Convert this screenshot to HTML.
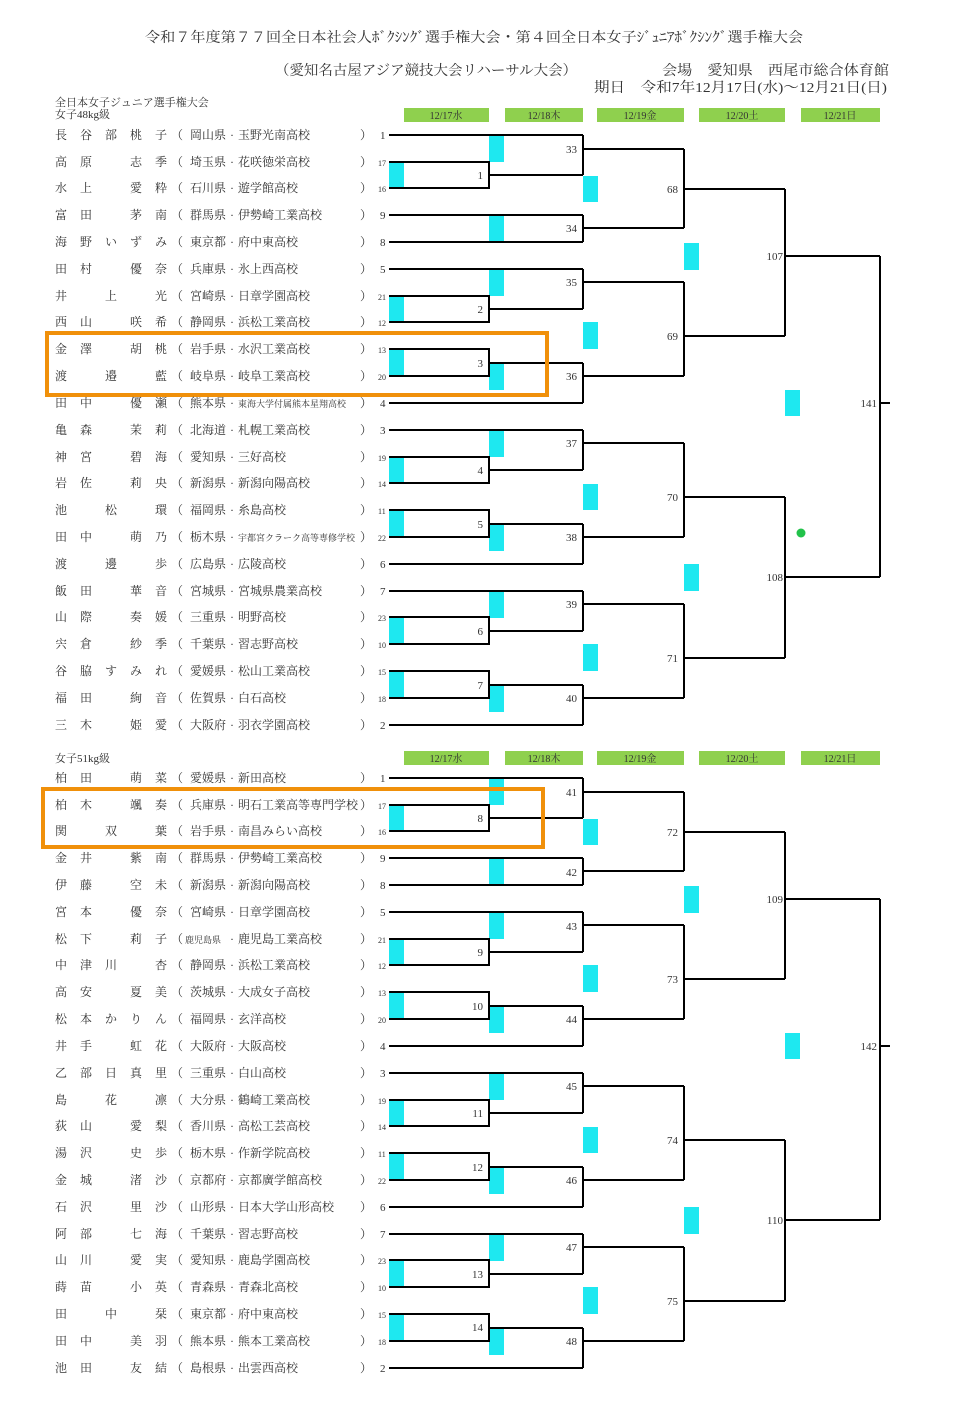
<!DOCTYPE html>
<html><head><meta charset="utf-8">
<style>
html,body{margin:0;padding:0;background:#fff;}
svg{display:block;}
text{font-family:"Liberation Serif","Noto Serif CJK SC","Noto Sans CJK JP",serif;fill:#333;font-size:12px;}
.n{letter-spacing:13px;}
.s{font-size:11px;}
.ss{font-size:8px;}
.sm{font-size:9px;}
.lb{font-size:11px;text-anchor:end;}
.dt{font-size:10px;text-anchor:middle;}
</style></head><body>
<svg width="953" height="1406" viewBox="0 0 953 1406" xmlns="http://www.w3.org/2000/svg">
<rect width="953" height="1406" fill="#fff"/>
<text x="145" y="42" style="font-size:14px" textLength="658" lengthAdjust="spacingAndGlyphs">令和７年度第７７回全日本社会人ﾎﾞｸｼﾝｸﾞ選手権大会・第４回全日本女子ｼﾞｭﾆｱﾎﾞｸｼﾝｸﾞ選手権大会</text>
<text x="275" y="75" style="font-size:14px" textLength="302" lengthAdjust="spacingAndGlyphs">（愛知名古屋アジア競技大会リハーサル大会）</text>
<text x="662" y="75" style="font-size:14px" textLength="227" lengthAdjust="spacingAndGlyphs">会場　愛知県　西尾市総合体育館</text>
<text x="594" y="92" style="font-size:14px" textLength="293" lengthAdjust="spacingAndGlyphs">期日　令和7年12月17日(水)～12月21日(日)</text>
<text x="55" y="106" style="font-size:11px">全日本女子ジュニア選手権大会</text>
<text x="55" y="118" style="font-size:11px">女子48kg級</text>
<text x="55" y="762" style="font-size:11px">女子51kg級</text>

<g id="dates">
<rect x="404" y="108" width="85" height="14" fill="#8fd04e"/>
<rect x="505" y="108" width="78" height="14" fill="#8fd04e"/>
<rect x="597" y="108" width="87" height="14" fill="#8fd04e"/>
<rect x="699" y="108" width="86" height="14" fill="#8fd04e"/>
<rect x="801" y="108" width="79" height="14" fill="#8fd04e"/>
</g>
<use href="#dates" y="643"/>
<text class="dt" x="446" y="119">12/17水</text><text class="dt" x="544" y="119">12/18木</text><text class="dt" x="640" y="119">12/19金</text><text class="dt" x="742" y="119">12/20土</text><text class="dt" x="840" y="119">12/21日</text>
<text class="dt" x="446" y="762">12/17水</text><text class="dt" x="544" y="762">12/18木</text><text class="dt" x="640" y="762">12/19金</text><text class="dt" x="742" y="762">12/20土</text><text class="dt" x="840" y="762">12/21日</text>

<g id="br">
<g fill="#1ee8f0">
<rect x="389" y="162" width="15" height="26"/><rect x="389" y="296" width="15" height="26"/><rect x="389" y="349" width="15" height="27"/><rect x="389" y="457" width="15" height="26"/><rect x="389" y="510" width="15" height="27"/><rect x="389" y="617" width="15" height="27"/><rect x="389" y="671" width="15" height="27"/>
<rect x="489" y="136" width="15" height="26"/><rect x="489" y="215" width="15" height="27"/><rect x="489" y="269" width="15" height="27"/><rect x="489" y="363" width="15" height="27"/><rect x="489" y="430" width="15" height="27"/><rect x="489" y="524" width="15" height="27"/><rect x="489" y="591" width="15" height="27"/><rect x="489" y="685" width="15" height="27"/>
<rect x="583" y="176" width="15" height="26"/><rect x="583" y="322" width="15" height="27"/><rect x="583" y="484" width="15" height="26"/><rect x="583" y="644" width="15" height="27"/>
<rect x="684" y="243" width="15" height="27"/><rect x="684" y="564" width="15" height="27"/>
<rect x="785" y="390" width="15" height="26"/>
</g>
<g stroke="#000" stroke-width="2" fill="none">
<path d="M389 135H583M389 215H583M389 242H583M389 269H583M389 403H583M389 430H583M389 564H583M389 591H583M389 725H583"/>
<path d="M389 162H489V188H389M489 175H583"/>
<path d="M389 296H489V322H389M489 309H583"/>
<path d="M389 349H489V376H389M489 363H583"/>
<path d="M389 457H489V483H389M489 470H583"/>
<path d="M389 510H489V537H389M489 524H583"/>
<path d="M389 617H489V644H389M489 631H583"/>
<path d="M389 671H489V698H389M489 685H583"/>
<path d="M583 135V175M583 149H684M583 215V242M583 228H684M583 269V309M583 282H684M583 363V403M583 376H684M583 430V470M583 443H684M583 524V564M583 537H684M583 591V631M583 604H684M583 685V725M583 698H684"/>
<path d="M684 149V228M684 189H785M684 282V376M684 336H785M684 443V537M684 497H785M684 604V698M684 658H785"/>
<path d="M785 189V336M785 256H880M785 497V658M785 577H880"/>
<path d="M880 256V577M880 403H890"/>
</g>
</g>
<use href="#br" y="643"/>
<circle cx="801" cy="533" r="4.5" fill="#22c24a"/>

<text class="lb" x="483" y="179">1</text><text class="lb" x="483" y="313">2</text><text class="lb" x="483" y="367">3</text><text class="lb" x="483" y="474">4</text><text class="lb" x="483" y="528">5</text><text class="lb" x="483" y="635">6</text><text class="lb" x="483" y="689">7</text>
<text class="lb" x="577" y="153">33</text><text class="lb" x="577" y="232">34</text><text class="lb" x="577" y="286">35</text><text class="lb" x="577" y="380">36</text><text class="lb" x="577" y="447">37</text><text class="lb" x="577" y="541">38</text><text class="lb" x="577" y="608">39</text><text class="lb" x="577" y="702">40</text>
<text class="lb" x="678" y="193">68</text><text class="lb" x="678" y="340">69</text><text class="lb" x="678" y="501">70</text><text class="lb" x="678" y="662">71</text>
<text class="lb" x="783" y="260">107</text><text class="lb" x="783" y="581">108</text><text class="lb" x="877" y="407">141</text>
<text class="lb" x="483" y="822">8</text><text class="lb" x="483" y="956">9</text><text class="lb" x="483" y="1010">10</text><text class="lb" x="483" y="1117">11</text><text class="lb" x="483" y="1171">12</text><text class="lb" x="483" y="1278">13</text><text class="lb" x="483" y="1331">14</text>
<text class="lb" x="577" y="796">41</text><text class="lb" x="577" y="876">42</text><text class="lb" x="577" y="930">43</text><text class="lb" x="577" y="1023">44</text><text class="lb" x="577" y="1090">45</text><text class="lb" x="577" y="1184">46</text><text class="lb" x="577" y="1251">47</text><text class="lb" x="577" y="1345">48</text>
<text class="lb" x="678" y="836">72</text><text class="lb" x="678" y="983">73</text><text class="lb" x="678" y="1144">74</text><text class="lb" x="678" y="1305">75</text>
<text class="lb" x="783" y="903">109</text><text class="lb" x="783" y="1224">110</text><text class="lb" x="877" y="1050">142</text>

<rect x="47" y="333" width="500" height="62" fill="none" stroke="#f0900a" stroke-width="4"/>
<rect x="43" y="789" width="500" height="58" fill="none" stroke="#f0900a" stroke-width="4"/>

<text y="139"><tspan class="n" x="55">長谷部桃子</tspan><tspan x="171">（</tspan><tspan x="190">岡山県</tspan><tspan x="230">·</tspan><tspan x="238">玉野光南高校</tspan><tspan x="360">）</tspan><tspan class="s" x="380">1</tspan></text>
<text y="166"><tspan class="n" x="55">高原　志季</tspan><tspan x="171">（</tspan><tspan x="190">埼玉県</tspan><tspan x="230">·</tspan><tspan x="238">花咲徳栄高校</tspan><tspan x="360">）</tspan><tspan class="ss" x="378">17</tspan></text>
<text y="192"><tspan class="n" x="55">水上　愛粋</tspan><tspan x="171">（</tspan><tspan x="190">石川県</tspan><tspan x="230">·</tspan><tspan x="238">遊学館高校</tspan><tspan x="360">）</tspan><tspan class="ss" x="378">16</tspan></text>
<text y="219"><tspan class="n" x="55">富田　茅南</tspan><tspan x="171">（</tspan><tspan x="190">群馬県</tspan><tspan x="230">·</tspan><tspan x="238">伊勢崎工業高校</tspan><tspan x="360">）</tspan><tspan class="s" x="380">9</tspan></text>
<text y="246"><tspan class="n" x="55">海野いずみ</tspan><tspan x="171">（</tspan><tspan x="190">東京都</tspan><tspan x="230">·</tspan><tspan x="238">府中東高校</tspan><tspan x="360">）</tspan><tspan class="s" x="380">8</tspan></text>
<text y="273"><tspan class="n" x="55">田村　優奈</tspan><tspan x="171">（</tspan><tspan x="190">兵庫県</tspan><tspan x="230">·</tspan><tspan x="238">氷上西高校</tspan><tspan x="360">）</tspan><tspan class="s" x="380">5</tspan></text>
<text y="300"><tspan class="n" x="55">井　上　光</tspan><tspan x="171">（</tspan><tspan x="190">宮崎県</tspan><tspan x="230">·</tspan><tspan x="238">日章学園高校</tspan><tspan x="360">）</tspan><tspan class="ss" x="378">21</tspan></text>
<text y="326"><tspan class="n" x="55">西山　咲希</tspan><tspan x="171">（</tspan><tspan x="190">静岡県</tspan><tspan x="230">·</tspan><tspan x="238">浜松工業高校</tspan><tspan x="360">）</tspan><tspan class="ss" x="378">12</tspan></text>
<text y="353"><tspan class="n" x="55">金澤　胡桃</tspan><tspan x="171">（</tspan><tspan x="190">岩手県</tspan><tspan x="230">·</tspan><tspan x="238">水沢工業高校</tspan><tspan x="360">）</tspan><tspan class="ss" x="378">13</tspan></text>
<text y="380"><tspan class="n" x="55">渡　邉　藍</tspan><tspan x="171">（</tspan><tspan x="190">岐阜県</tspan><tspan x="230">·</tspan><tspan x="238">岐阜工業高校</tspan><tspan x="360">）</tspan><tspan class="ss" x="378">20</tspan></text>
<text y="407"><tspan class="n" x="55">田中　優瀬</tspan><tspan x="171">（</tspan><tspan x="190">熊本県</tspan><tspan x="230">·</tspan><tspan class="sm" x="238">東海大学付属熊本星翔高校</tspan><tspan x="360">）</tspan><tspan class="s" x="380">4</tspan></text>
<text y="434"><tspan class="n" x="55">亀森　茉莉</tspan><tspan x="171">（</tspan><tspan x="190">北海道</tspan><tspan x="230">·</tspan><tspan x="238">札幌工業高校</tspan><tspan x="360">）</tspan><tspan class="s" x="380">3</tspan></text>
<text y="461"><tspan class="n" x="55">神宮　碧海</tspan><tspan x="171">（</tspan><tspan x="190">愛知県</tspan><tspan x="230">·</tspan><tspan x="238">三好高校</tspan><tspan x="360">）</tspan><tspan class="ss" x="378">19</tspan></text>
<text y="487"><tspan class="n" x="55">岩佐　莉央</tspan><tspan x="171">（</tspan><tspan x="190">新潟県</tspan><tspan x="230">·</tspan><tspan x="238">新潟向陽高校</tspan><tspan x="360">）</tspan><tspan class="ss" x="378">14</tspan></text>
<text y="514"><tspan class="n" x="55">池　松　環</tspan><tspan x="171">（</tspan><tspan x="190">福岡県</tspan><tspan x="230">·</tspan><tspan x="238">糸島高校</tspan><tspan x="360">）</tspan><tspan class="ss" x="378">11</tspan></text>
<text y="541"><tspan class="n" x="55">田中　萌乃</tspan><tspan x="171">（</tspan><tspan x="190">栃木県</tspan><tspan x="230">·</tspan><tspan class="sm" x="238">宇都宮クラーク高等専修学校</tspan><tspan x="360">）</tspan><tspan class="ss" x="378">22</tspan></text>
<text y="568"><tspan class="n" x="55">渡　邊　歩</tspan><tspan x="171">（</tspan><tspan x="190">広島県</tspan><tspan x="230">·</tspan><tspan x="238">広陵高校</tspan><tspan x="360">）</tspan><tspan class="s" x="380">6</tspan></text>
<text y="595"><tspan class="n" x="55">飯田　華音</tspan><tspan x="171">（</tspan><tspan x="190">宮城県</tspan><tspan x="230">·</tspan><tspan x="238">宮城県農業高校</tspan><tspan x="360">）</tspan><tspan class="s" x="380">7</tspan></text>
<text y="621"><tspan class="n" x="55">山際　奏媛</tspan><tspan x="171">（</tspan><tspan x="190">三重県</tspan><tspan x="230">·</tspan><tspan x="238">明野高校</tspan><tspan x="360">）</tspan><tspan class="ss" x="378">23</tspan></text>
<text y="648"><tspan class="n" x="55">宍倉　紗季</tspan><tspan x="171">（</tspan><tspan x="190">千葉県</tspan><tspan x="230">·</tspan><tspan x="238">習志野高校</tspan><tspan x="360">）</tspan><tspan class="ss" x="378">10</tspan></text>
<text y="675"><tspan class="n" x="55">谷脇すみれ</tspan><tspan x="171">（</tspan><tspan x="190">愛媛県</tspan><tspan x="230">·</tspan><tspan x="238">松山工業高校</tspan><tspan x="360">）</tspan><tspan class="ss" x="378">15</tspan></text>
<text y="702"><tspan class="n" x="55">福田　絢音</tspan><tspan x="171">（</tspan><tspan x="190">佐賀県</tspan><tspan x="230">·</tspan><tspan x="238">白石高校</tspan><tspan x="360">）</tspan><tspan class="ss" x="378">18</tspan></text>
<text y="729"><tspan class="n" x="55">三木　姫愛</tspan><tspan x="171">（</tspan><tspan x="190">大阪府</tspan><tspan x="230">·</tspan><tspan x="238">羽衣学園高校</tspan><tspan x="360">）</tspan><tspan class="s" x="380">2</tspan></text>

<text y="782"><tspan class="n" x="55">柏田　萌菜</tspan><tspan x="171">（</tspan><tspan x="190">愛媛県</tspan><tspan x="230">·</tspan><tspan x="238">新田高校</tspan><tspan x="360">）</tspan><tspan class="s" x="380">1</tspan></text>
<text y="809"><tspan class="n" x="55">柏木　颯奏</tspan><tspan x="171">（</tspan><tspan x="190">兵庫県</tspan><tspan x="230">·</tspan><tspan x="238">明石工業高等専門学校</tspan><tspan x="360">）</tspan><tspan class="ss" x="378">17</tspan></text>
<text y="835"><tspan class="n" x="55">関　双　葉</tspan><tspan x="171">（</tspan><tspan x="190">岩手県</tspan><tspan x="230">·</tspan><tspan x="238">南昌みらい高校</tspan><tspan x="360">）</tspan><tspan class="ss" x="378">16</tspan></text>
<text y="862"><tspan class="n" x="55">金井　紫南</tspan><tspan x="171">（</tspan><tspan x="190">群馬県</tspan><tspan x="230">·</tspan><tspan x="238">伊勢崎工業高校</tspan><tspan x="360">）</tspan><tspan class="s" x="380">9</tspan></text>
<text y="889"><tspan class="n" x="55">伊藤　空未</tspan><tspan x="171">（</tspan><tspan x="190">新潟県</tspan><tspan x="230">·</tspan><tspan x="238">新潟向陽高校</tspan><tspan x="360">）</tspan><tspan class="s" x="380">8</tspan></text>
<text y="916"><tspan class="n" x="55">宮本　優奈</tspan><tspan x="171">（</tspan><tspan x="190">宮崎県</tspan><tspan x="230">·</tspan><tspan x="238">日章学園高校</tspan><tspan x="360">）</tspan><tspan class="s" x="380">5</tspan></text>
<text y="943"><tspan class="n" x="55">松下　莉子</tspan><tspan x="171">（</tspan><tspan class="sm" x="185">鹿児島県</tspan><tspan x="230">·</tspan><tspan x="238">鹿児島工業高校</tspan><tspan x="360">）</tspan><tspan class="ss" x="378">21</tspan></text>
<text y="969"><tspan class="n" x="55">中津川　杏</tspan><tspan x="171">（</tspan><tspan x="190">静岡県</tspan><tspan x="230">·</tspan><tspan x="238">浜松工業高校</tspan><tspan x="360">）</tspan><tspan class="ss" x="378">12</tspan></text>
<text y="996"><tspan class="n" x="55">高安　夏美</tspan><tspan x="171">（</tspan><tspan x="190">茨城県</tspan><tspan x="230">·</tspan><tspan x="238">大成女子高校</tspan><tspan x="360">）</tspan><tspan class="ss" x="378">13</tspan></text>
<text y="1023"><tspan class="n" x="55">松本かりん</tspan><tspan x="171">（</tspan><tspan x="190">福岡県</tspan><tspan x="230">·</tspan><tspan x="238">玄洋高校</tspan><tspan x="360">）</tspan><tspan class="ss" x="378">20</tspan></text>
<text y="1050"><tspan class="n" x="55">井手　虹花</tspan><tspan x="171">（</tspan><tspan x="190">大阪府</tspan><tspan x="230">·</tspan><tspan x="238">大阪高校</tspan><tspan x="360">）</tspan><tspan class="s" x="380">4</tspan></text>
<text y="1077"><tspan class="n" x="55">乙部日真里</tspan><tspan x="171">（</tspan><tspan x="190">三重県</tspan><tspan x="230">·</tspan><tspan x="238">白山高校</tspan><tspan x="360">）</tspan><tspan class="s" x="380">3</tspan></text>
<text y="1104"><tspan class="n" x="55">島　花　凛</tspan><tspan x="171">（</tspan><tspan x="190">大分県</tspan><tspan x="230">·</tspan><tspan x="238">鶴崎工業高校</tspan><tspan x="360">）</tspan><tspan class="ss" x="378">19</tspan></text>
<text y="1130"><tspan class="n" x="55">荻山　愛梨</tspan><tspan x="171">（</tspan><tspan x="190">香川県</tspan><tspan x="230">·</tspan><tspan x="238">高松工芸高校</tspan><tspan x="360">）</tspan><tspan class="ss" x="378">14</tspan></text>
<text y="1157"><tspan class="n" x="55">湯沢　史歩</tspan><tspan x="171">（</tspan><tspan x="190">栃木県</tspan><tspan x="230">·</tspan><tspan x="238">作新学院高校</tspan><tspan x="360">）</tspan><tspan class="ss" x="378">11</tspan></text>
<text y="1184"><tspan class="n" x="55">金城　渚沙</tspan><tspan x="171">（</tspan><tspan x="190">京都府</tspan><tspan x="230">·</tspan><tspan x="238">京都廣学館高校</tspan><tspan x="360">）</tspan><tspan class="ss" x="378">22</tspan></text>
<text y="1211"><tspan class="n" x="55">石沢　里沙</tspan><tspan x="171">（</tspan><tspan x="190">山形県</tspan><tspan x="230">·</tspan><tspan x="238">日本大学山形高校</tspan><tspan x="360">）</tspan><tspan class="s" x="380">6</tspan></text>
<text y="1238"><tspan class="n" x="55">阿部　七海</tspan><tspan x="171">（</tspan><tspan x="190">千葉県</tspan><tspan x="230">·</tspan><tspan x="238">習志野高校</tspan><tspan x="360">）</tspan><tspan class="s" x="380">7</tspan></text>
<text y="1264"><tspan class="n" x="55">山川　愛実</tspan><tspan x="171">（</tspan><tspan x="190">愛知県</tspan><tspan x="230">·</tspan><tspan x="238">鹿島学園高校</tspan><tspan x="360">）</tspan><tspan class="ss" x="378">23</tspan></text>
<text y="1291"><tspan class="n" x="55">蒔苗　小英</tspan><tspan x="171">（</tspan><tspan x="190">青森県</tspan><tspan x="230">·</tspan><tspan x="238">青森北高校</tspan><tspan x="360">）</tspan><tspan class="ss" x="378">10</tspan></text>
<text y="1318"><tspan class="n" x="55">田　中　栞</tspan><tspan x="171">（</tspan><tspan x="190">東京都</tspan><tspan x="230">·</tspan><tspan x="238">府中東高校</tspan><tspan x="360">）</tspan><tspan class="ss" x="378">15</tspan></text>
<text y="1345"><tspan class="n" x="55">田中　美羽</tspan><tspan x="171">（</tspan><tspan x="190">熊本県</tspan><tspan x="230">·</tspan><tspan x="238">熊本工業高校</tspan><tspan x="360">）</tspan><tspan class="ss" x="378">18</tspan></text>
<text y="1372"><tspan class="n" x="55">池田　友結</tspan><tspan x="171">（</tspan><tspan x="190">島根県</tspan><tspan x="230">·</tspan><tspan x="238">出雲西高校</tspan><tspan x="360">）</tspan><tspan class="s" x="380">2</tspan></text>
</svg>
</body></html>
